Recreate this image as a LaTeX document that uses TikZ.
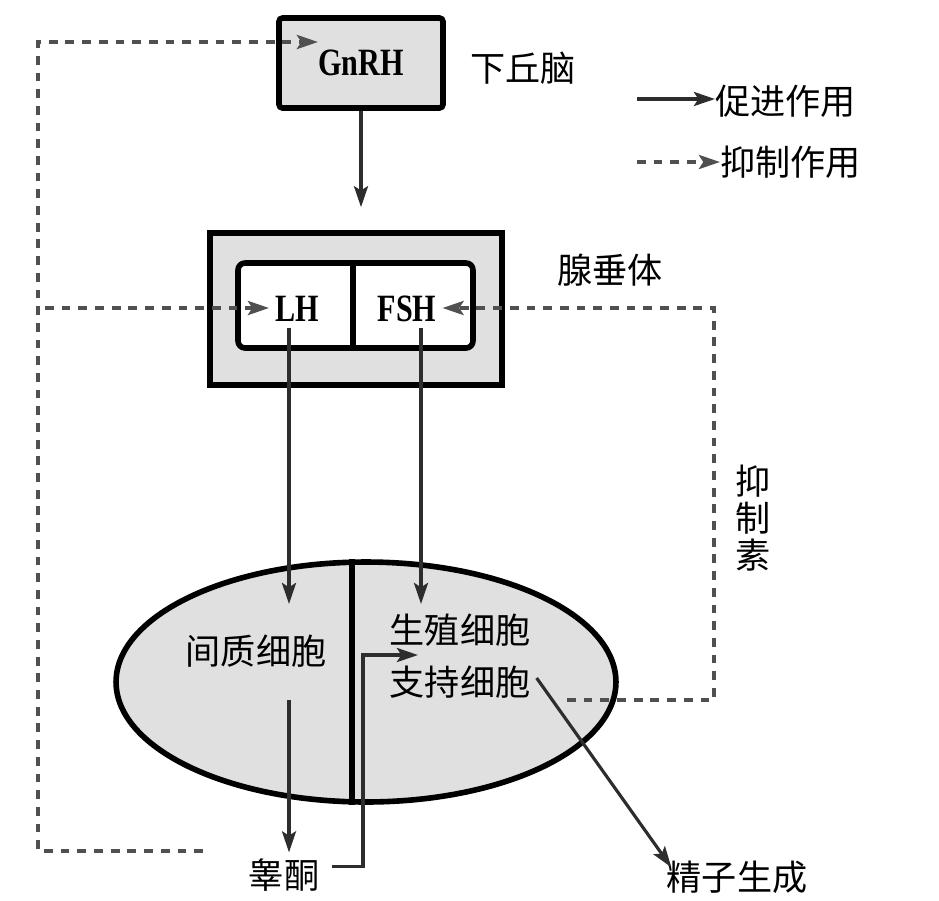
\documentclass[tikz,border=0pt]{standalone}
\definecolor{fond}{RGB}{224,224,224}
\definecolor{fleche}{RGB}{45,45,45}
\definecolor{pointille}{RGB}{80,80,80}
\usepackage{fontspec}
\newfontfamily\cjk{Noto Sans CJK SC}
\newfontfamily\latinfont[FakeStretch=0.78]{Liberation Serif}
\usepackage{tikz}
\usetikzlibrary{arrows.meta,positioning,shapes.geometric}
\tikzset{
	cadre/.style={draw=black,line width=3.2pt,fill=fond},
	hormone/.style={font=\latinfont\bfseries\fontsize{22}{24}\selectfont},
	texte/.style={font=\cjk\fontsize{20}{21}\selectfont,inner sep=0pt},
	promo/.style={fleche,line width=1.8pt,-{Stealth[length=12pt,width=8pt,inset=2.5pt]}},
	inhib/.style={pointille,line width=2.1pt,dash pattern=on 5pt off 4.5pt,-{Stealth[length=12pt,width=8pt,inset=2.5pt]}},
}

\begin{document}
\begin{tikzpicture}[x=0.02cm,y=-0.02cm]
				\useasboundingbox (0,0) rectangle (939,900);
				
				% hypothalamus
				\node[cadre,rounded corners=2pt,minimum width=3.28cm,minimum height=1.8cm,hormone] (gnrh) at (361,63) {GnRH};
				\node[texte,anchor=west] (hypo) at (470,68) {下丘脑};
				
				% adenohypophyse
				\node[cadre,minimum width=5.84cm,minimum height=3.04cm] (adeno) at (356,309) {};
				\node[draw,line width=3.2pt,fill=white,rounded corners=4pt,minimum width=4.7cm,minimum height=1.7cm] (lobe) at (355.5,305.5) {};
				\coordinate (sep) at (353,0);
				\draw[line width=3pt] (lobe.north -| sep) -- (lobe.south -| sep);
				\node[hormone] (lh) at (297,309) {LH};
				\node[hormone] (fsh) at (407,309) {FSH};
				\node[texte,anchor=west] (adenolab) at (557,270) {腺垂体};
				\draw[promo,shorten >=0.46cm] (gnrh.south) -- (gnrh.south |- adeno.north);
				
				% testicule
				\node[draw,line width=3.2pt,fill=fond,ellipse,minimum width=10cm,minimum height=4.8cm] (testis) at (366,682) {};
				\coordinate (sep2) at (352,0);
				\draw[line width=3pt] (testis.north -| sep2) -- (testis.south -| sep2);
				\node[texte] (leydig) at (256,651) {间质细胞};
				\node[texte] (germ) at (460,630) {生殖细胞};
				\node[texte] (sertoli) at (460,682) {支持细胞};
				\node[texte] (testo) at (284,875) {睾酮};
				\node[texte] (sperm) at (737,877) {精子生成};
				\node[texte,align=center] (inhibine) at (753,518) {抑\\制\\素};
				
				% stimulation
				\coordinate (lhbas) at (289,604);
				\coordinate (fshbas) at (421,604);
				\draw[promo] (lh.south -| lhbas) -- (lhbas);
				\draw[promo] (fsh.south -| fshbas) -- (fshbas);
				\draw[promo,shorten <=0.64cm,shorten >=0.12cm] (leydig.south -| lhbas) -- (testo.north -| lhbas);
				\coordinate (coude) at (363,655);
				\coordinate (pointe) at (418,655);
				\draw[promo] ([xshift=0.26cm,yshift=-0.16cm]testo.north east) -| (coude) -- (pointe);
				\draw[promo] ([xshift=0.12cm,yshift=0.08cm]sertoli.east) -- ([xshift=0.1cm,yshift=-0.14cm]sperm.north west);
				
				% retrocontrole
				\coordinate (ghaut) at (38,42);
				\coordinate (gmil) at (45,308);
				\coordinate (gbas) at (38,851);
				\coordinate (gfin) at (203,851);
				\coordinate (gpointe) at (318,42);
				\draw[inhib] (gfin) -- (gbas) -- (ghaut) -- (gpointe);
				\draw[inhib] (gmil) -- (lh.west |- gmil);
				\coordinate (ddebut) at (567,700);
				\coordinate (dbas) at (714,700);
				\coordinate (dhaut) at (714,308);
				\draw[inhib] (ddebut) -- (dbas) -- (dhaut) -- (fsh.east |- dhaut);
				
				% legende
				\coordinate (lg1) at (637,99);
				\coordinate (lg2) at (637,162);
				\node[texte,anchor=west] (promolab) at (715,101) {促进作用};
				\node[texte,anchor=west] (inhiblab) at (720,162) {抑制作用};
				\draw[promo] (lg1) -- (lg1 -| promolab.west);
				\draw[inhib] (lg2) -- (lg2 -| inhiblab.west);
			\end{tikzpicture}
\end{document}
